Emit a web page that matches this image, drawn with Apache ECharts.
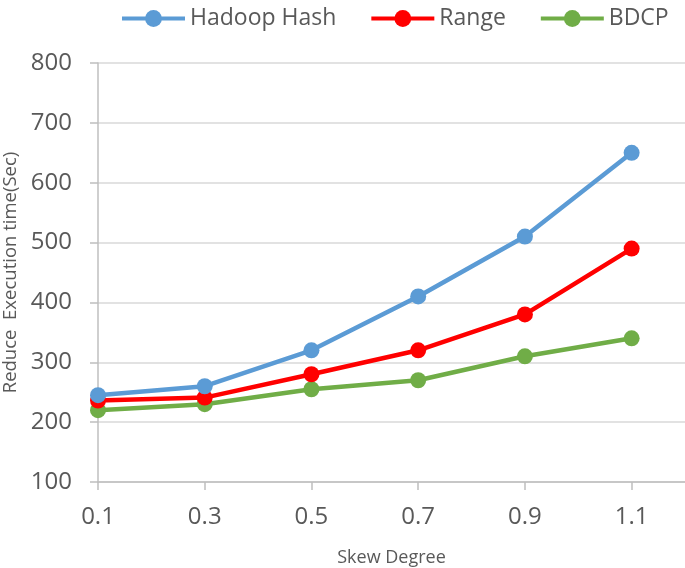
<!DOCTYPE html>
<html>
<head>
<meta charset="utf-8">
<script src="https://cdn.jsdelivr.net/npm/echarts@6/dist/echarts.min.js"></script>
<style>html,body{margin:0;padding:0;background:#fff;}#c{width:685px;height:568px;}</style>
</head>
<body>
<div id="c"></div>
<script>
var skew = [0.1, 0.3, 0.5, 0.7, 0.9, 1.1];
var hadoopHash = [245, 260, 320, 410, 510, 650];
var rangeVals = [236, 241, 280, 320, 380, 490];
var bdcp = [220, 230, 255, 270, 310, 340];
var seriesNames = ['Hadoop Hash', 'Range', 'BDCP'];
var colors = ['#5B9BD5', '#FF0000', '#70AD47'];

function pairs(ys) { return skew.map(function (x, i) { return [x, ys[i]]; }); }

var font = 'Open Sans';
var chart = echarts.init(document.getElementById('c'));
var allData = [hadoopHash, rangeVals, bdcp];
chart.setOption({
  animation: false,
  textStyle: { fontFamily: font },
  legend: {
    top: 2, left: 115,
    itemWidth: 63, itemHeight: 21, itemGap: 33,
    lineStyle: { width: 4 },
    textStyle: { fontSize: 23, color: '#595959', fontFamily: font },
    data: seriesNames
  },
  grid: { left: 98, right: 0, top: 63, bottom: 86, containLabel: false, outerBoundsMode: 'none' },
  xAxis: {
    type: 'value', min: 0.1, max: 1.2, interval: 0.2,
    name: 'Skew Degree', nameLocation: 'middle', nameGap: 67,
    nameTextStyle: { fontSize: 18, color: '#595959', fontFamily: font },
    axisLine: { show: true, lineStyle: { color: '#BFBFBF', width: 1.5 } },
    axisTick: { show: true, length: 8, lineStyle: { color: '#BFBFBF', width: 1.5 } },
    axisLabel: { fontSize: 24, color: '#595959', margin: 23, showMaxLabel: false,
      formatter: function (v) { return (Math.round(v * 10) / 10).toFixed(1); } },
    splitLine: { show: false }
  },
  yAxis: {
    type: 'value', min: 100, max: 800, interval: 100,
    name: 'Reduce  Execution time(Sec)', nameLocation: 'middle', nameGap: 78,
    nameTextStyle: { fontSize: 18.5, color: '#595959', fontFamily: font },
    axisLine: { show: true, lineStyle: { color: '#BFBFBF', width: 1.5 } },
    axisTick: { show: true, length: 8, lineStyle: { color: '#BFBFBF', width: 1.5 } },
    axisLabel: { fontSize: 24, color: '#595959', margin: 26 },
    splitLine: { show: true, lineStyle: { color: '#D9D9D9', width: 1.5 } }
  },
  series: seriesNames.map(function (n, i) {
    return {
      name: n, type: 'line', data: pairs(allData[i]),
      symbol: 'circle', symbolSize: 16,
      lineStyle: { width: 4.5, color: colors[i] },
      itemStyle: { color: colors[i] },
      z: 3 - i
    };
  })
});
</script>
</body>
</html>
